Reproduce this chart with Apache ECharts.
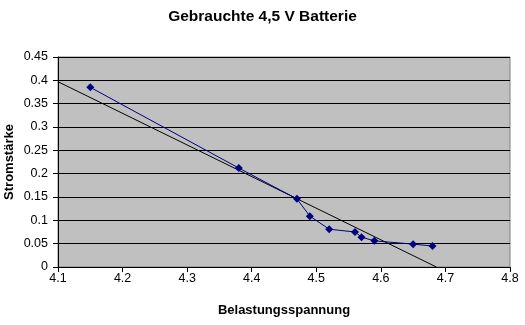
<!DOCTYPE html>
<html><head><meta charset="utf-8">
<script src="https://cdn.jsdelivr.net/npm/echarts@6/dist/echarts.min.js"></script>
<style>html,body{margin:0;padding:0;background:#fff}#c{width:525px;height:325px}</style>
</head><body><div id="c"></div>
<script>
const voltage = [4.15, 4.38, 4.47, 4.49, 4.52, 4.56, 4.57, 4.59, 4.65, 4.68];
const current = [0.385, 0.212, 0.146, 0.109, 0.081, 0.075, 0.064, 0.056, 0.049, 0.045];
const trendX = [4.1, 4.686];
const trendY = [0.397, 0];
const titleText = 'Gebrauchte 4,5 V Batterie';
const xName = 'Belastungsspannung';
const yName = 'Stromstärke';

const font = 'Liberation Sans, Arial, sans-serif';
const chart = echarts.init(document.getElementById('c'), null, {renderer: 'canvas'});
chart.setOption({
  animation: false,
  backgroundColor: '#ffffff',
  title: {text: titleText, left: 'center', top: 4,
    textStyle: {fontFamily: font, fontSize: 15.5, fontWeight: 'bold', color: '#000'}},
  grid: {left: 58, right: 15, top: 57, bottom: 58, show: true,
    outerBoundsMode: 'none', containLabel: false,
    backgroundColor: '#C0C0C0', borderColor: '#808080', borderWidth: 1},
  xAxis: {type: 'value', min: 4.1, max: 4.8, interval: 0.1,
    name: xName, nameLocation: 'middle', nameGap: 37, nameMoveOverlap: false,
    nameTextStyle: {fontFamily: font, fontSize: 13, fontWeight: 'bold', color: '#000'},
    axisLine: {show: true, onZero: false, lineStyle: {color: '#000', width: 1}},
    axisTick: {show: true, inside: false, length: 5, lineStyle: {color: '#000'}},
    axisLabel: {fontFamily: font, fontSize: 12.5, color: '#000', margin: 5,
      formatter: v => (Math.round(v * 10) / 10).toFixed(1)},
    splitLine: {show: false}},
  yAxis: {type: 'value', min: 0, max: 0.45, interval: 0.05,
    name: yName, nameLocation: 'middle', nameGap: 42, nameRotate: 90, nameMoveOverlap: false,
    nameTextStyle: {fontFamily: font, fontSize: 13, fontWeight: 'bold', color: '#000'},
    axisLine: {show: true, lineStyle: {color: '#000', width: 1}},
    axisTick: {show: true, inside: false, length: 5, lineStyle: {color: '#000'}},
    axisLabel: {fontFamily: font, fontSize: 12.5, color: '#000', margin: 10,
      formatter: v => String(Math.round(v * 100) / 100)},
    splitLine: {show: true, lineStyle: {color: '#000', width: 1}}},
  series: [
    {type: 'line', data: trendX.map((x, i) => [x, trendY[i]]), symbol: 'none',
      lineStyle: {color: '#000', width: 1}, silent: true, z: 3},
    {type: 'line', data: voltage.map((x, i) => [x, current[i]]),
      symbol: 'diamond', symbolSize: 8, showAllSymbol: true,
      itemStyle: {color: '#000080'}, lineStyle: {color: '#000080', width: 1}, z: 4}
  ]
});
</script></body></html>
